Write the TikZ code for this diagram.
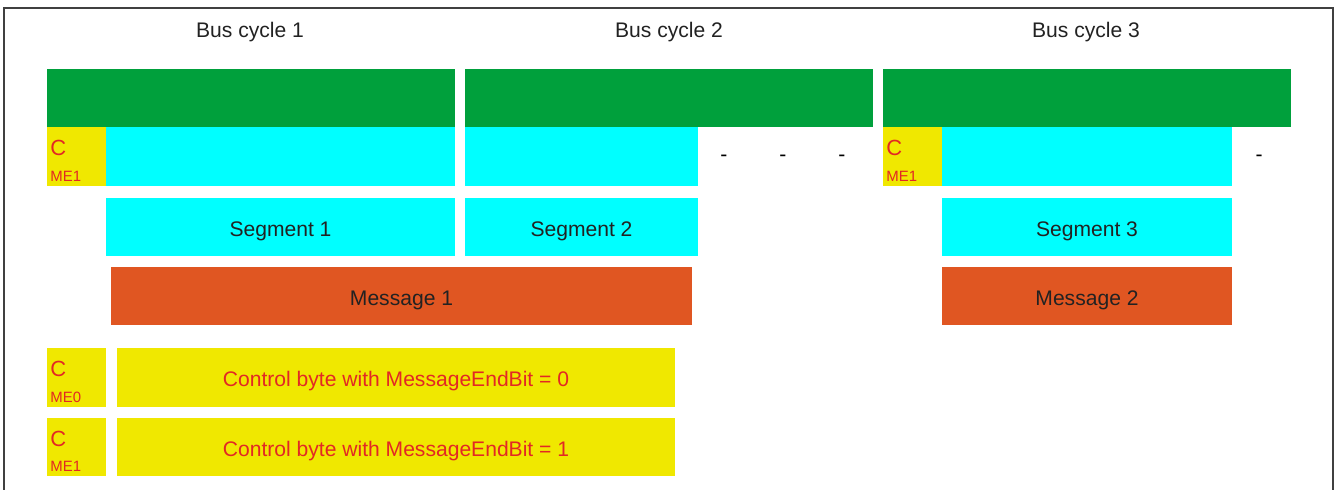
\documentclass[tikz,border=0pt]{standalone}
\usepackage{fontspec}
\setmainfont{Liberation Sans}
\usetikzlibrary{positioning}

\definecolor{busgreen}{RGB}{0,160,60}
\definecolor{segcyan}{RGB}{0,255,255}
\definecolor{msgorange}{RGB}{224,86,34}
\definecolor{ctlyellow}{RGB}{240,232,0}
\definecolor{ctlred}{RGB}{226,40,36}
\definecolor{txtgray}{RGB}{34,34,34}
\newcommand{\px}{0.02cm}

\tikzset{
    blk/.style={rectangle, inner sep=0pt, outer sep=0pt, anchor=north west, minimum height=58*\px, font=\fontsize{12}{14}\selectfont, text=txtgray, text height=10.5pt, text depth=0pt},
    cyc/.style={blk, fill=busgreen, minimum width=408*\px},
    seg/.style={blk, fill=segcyan},
    msg/.style={blk, fill=msgorange},
    ctl/.style={blk, fill=ctlyellow, text=ctlred},
    cbit/.style={ctl, minimum width=59*\px, minimum height=59*\px},
    ctxt/.style={inner sep=0pt, anchor=west, text=ctlred, font=\fontsize{12.5}{14}\selectfont},
    mtxt/.style={inner sep=0pt, anchor=west, text=ctlred, font=\fontsize{8.5}{10}\selectfont},
    title/.style={inner sep=0pt, text=txtgray, font=\fontsize{12}{14}\selectfont, text height=8.6pt, text depth=0pt},
}

\begin{document}
\begin{tikzpicture}[x=0.02cm, y=-0.02cm]
    \useasboundingbox (0,0) rectangle (1336,490);
    \draw[black!75, line width=1.2*\px] (4,500) -- (4,8) -- (1333,8) -- (1333,500);

    % bus cycles
    \node[cyc] (cyc1) at (47,69) {};
    \node[cyc] (cyc2) at (465,69) {};
    \node[cyc] (cyc3) at (883,69) {};
    \node[title] (bc1) at (250,29.5) {Bus cycle 1};
    \node[title] (bc2) at (669,29.5) {Bus cycle 2};
    \node[title] (bc3) at (1086,29.5) {Bus cycle 3};

    % data in the cycles
    \node[cbit] (c1) at (47,127) {};
    \node[ctxt] at ([xshift=3*\px, yshift=-21*\px]c1.north west) {C};
    \node[mtxt] at ([xshift=3*\px, yshift=10*\px]c1.south west) {ME1};
    \node[seg, minimum width=349*\px, minimum height=59*\px] (d1) at (106,127) {};
    \node[seg, minimum width=233*\px, minimum height=59*\px] (d2) at (465,127) {};
    \node[cbit] (c3) at (883,127) {};
    \node[ctxt] at ([xshift=3*\px, yshift=-21*\px]c3.north west) {C};
    \node[mtxt] at ([xshift=3*\px, yshift=10*\px]c3.south west) {ME1};
    \node[seg, minimum width=290*\px, minimum height=59*\px] (d3) at (942,127) {};
    \foreach \x/\n in {724/a,783/b,842/c,1259/d}
        \node[text=black, font=\fontsize{12}{14}\selectfont] (dash\n) at (\x,158) {-};

    % segments
    \node[seg, minimum width=349*\px] (seg1) at (106,198) {Segment 1};
    \node[seg, minimum width=233*\px] (seg2) at (465,198) {Segment 2};
    \node[seg, minimum width=290*\px] (seg3) at (942,198) {Segment 3};

    % messages
    \node[msg, minimum width=581*\px] (msg1) at (111,267) {Message 1};
    \node[msg, minimum width=290*\px] (msg2) at (942,267) {Message 2};

    % legend
    \node[cbit] (cme0) at (47,348) {};
    \node[ctxt] at ([xshift=3*\px, yshift=-21*\px]cme0.north west) {C};
    \node[mtxt] at ([xshift=3*\px, yshift=10*\px]cme0.south west) {ME0};
    \node[ctl, minimum width=558*\px, minimum height=59*\px] (ctl0) at (117,348) {Control byte with MessageEndBit = 0};
    \node[cbit, minimum height=58*\px] (cme1) at (47,418) {};
    \node[ctxt] at ([xshift=3*\px, yshift=-21*\px]cme1.north west) {C};
    \node[mtxt] at ([xshift=3*\px, yshift=10*\px]cme1.south west) {ME1};
    \node[ctl, minimum width=558*\px] (ctl1) at (117,418) {Control byte with MessageEndBit = 1};
\end{tikzpicture}
\end{document}
